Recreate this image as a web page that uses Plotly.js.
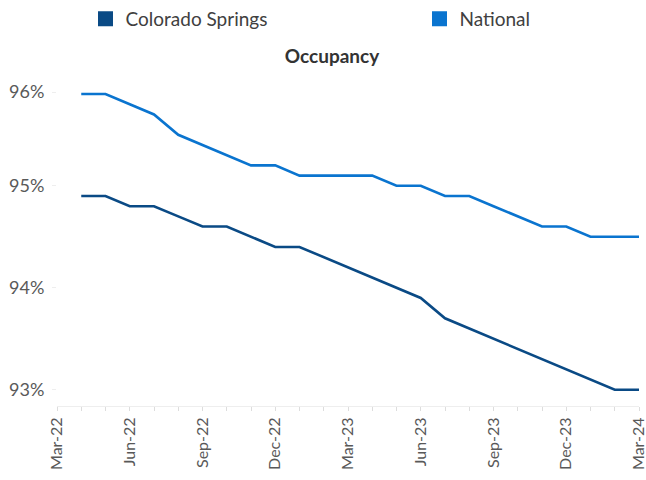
<!DOCTYPE html>
<html>
<head>
<meta charset="utf-8">
<script src="https://cdn.plot.ly/plotly-3.0.1.min.js"></script>
<style>html,body{margin:0;padding:0;background:#fff;}#chart{width:646px;height:480px;}</style>
</head>
<body>
<div id="chart"></div>
<script>
// Axis categories (Mar-22 is the axis start, data begin Apr-22)
const axisMonths = ['Mar-22','Apr-22','May-22','Jun-22','Jul-22','Aug-22','Sep-22','Oct-22','Nov-22','Dec-22','Jan-23','Feb-23','Mar-23','Apr-23','May-23','Jun-23','Jul-23','Aug-23','Sep-23','Oct-23','Nov-23','Dec-23','Jan-24','Feb-24','Mar-24'];
const tickLabels = ['Mar-22','','','Jun-22','','','Sep-22','','','Dec-22','','','Mar-23','','','Jun-23','','','Sep-23','','','Dec-23','','','Mar-24'];
const months = ['Apr-22','May-22','Jun-22','Jul-22','Aug-22','Sep-22','Oct-22','Nov-22','Dec-22','Jan-23','Feb-23','Mar-23','Apr-23','May-23','Jun-23','Jul-23','Aug-23','Sep-23','Oct-23','Nov-23','Dec-23','Jan-24','Feb-24','Mar-24'];

const coloradoSprings = [94.9,94.9,94.8,94.8,94.7,94.6,94.6,94.5,94.4,94.4,94.3,94.2,94.1,94.0,93.9,93.7,93.6,93.5,93.4,93.3,93.2,93.1,93.0,93.0];
const national = [95.9,95.9,95.8,95.7,95.5,95.4,95.3,95.2,95.2,95.1,95.1,95.1,95.1,95.0,95.0,94.9,94.9,94.8,94.7,94.6,94.6,94.5,94.5,94.5];

const yTickVals = [93, 94, 95, 95.92];
const yTickText = ['93%', '94%', '95%', '96%'];

const cColor = '#0A4A85';
const nColor = '#0A74CF';

const traces = [
  {x: months, y: coloradoSprings, type: 'scatter', mode: 'lines', name: 'Colorado Springs',
   showlegend: false, line: {color: cColor, width: 2.6}, hoverinfo: 'skip'},
  {x: months, y: national, type: 'scatter', mode: 'lines', name: 'National',
   showlegend: false, line: {color: nColor, width: 2.6}, hoverinfo: 'skip'},
  {x: [months[0]], y: [null], type: 'scatter', mode: 'markers', name: 'Colorado Springs',
   legend: 'legend', showlegend: true, marker: {symbol: 'square', size: 15, color: cColor}},
  {x: [months[0]], y: [null], type: 'scatter', mode: 'markers', name: 'National',
   legend: 'legend2', showlegend: true, marker: {symbol: 'square', size: 15, color: nColor}}
];

const legendBase = {orientation: 'h', xanchor: 'left', y: 1.0, yanchor: 'top',
  xref: 'container', yref: 'container', font: {size: 19, color: '#404040'},
  bgcolor: 'rgba(0,0,0,0)'};

const layout = {
  width: 646, height: 480,
  margin: {l: 57, r: 7, t: 92, b: 74},
  paper_bgcolor: '#ffffff', plot_bgcolor: '#ffffff',
  font: {family: 'Lato, "Open Sans", sans-serif', color: '#595959'},
  title: {text: '<b>Occupancy</b>', x: 0.514, xanchor: 'center', y: 0.883, yanchor: 'middle',
          font: {size: 19, color: '#333333', family: 'Lato, sans-serif'}},
  showlegend: true,
  legend: Object.assign({}, legendBase, {x: 85.5 / 646}),
  legend2: Object.assign({}, legendBase, {x: 419.5 / 646}),
  xaxis: {type: 'category', categoryorder: 'array', categoryarray: axisMonths,
          range: [0, 24], tickvals: axisMonths, ticktext: tickLabels, tickangle: -90,
          showgrid: false, zeroline: false, showline: true, linecolor: '#eeeeee', linewidth: 1,
          ticks: 'outside', ticklen: 4, tickcolor: '#dddddd',
          tickfont: {size: 16, color: '#595959'}, fixedrange: true},
  yaxis: {range: [92.84, 95.92], tickvals: yTickVals, ticktext: yTickText,
          showgrid: false, zeroline: false, showline: false,
          ticks: 'outside', ticklen: 4, tickcolor: '#eeeeee', ticklabelstandoff: 4,
          tickfont: {size: 18, color: '#595959'}, fixedrange: true}
};

Plotly.newPlot('chart', traces, layout, {staticPlot: true, displayModeBar: false});
</script>
</body>
</html>
